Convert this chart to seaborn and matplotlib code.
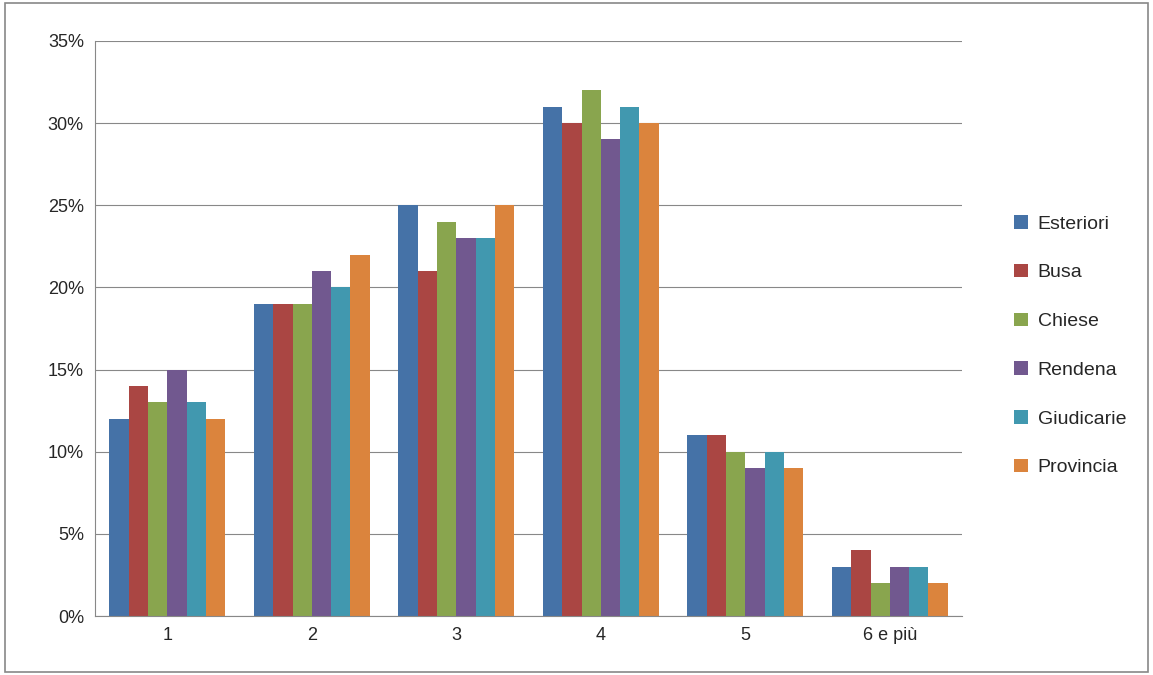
import matplotlib
matplotlib.use("Agg")
import matplotlib.pyplot as plt
import matplotlib.ticker as ticker
import seaborn as sns
import pandas as pd

categories = ["1", "2", "3", "4", "5", "6 e più"]
series = ["Esteriori", "Busa", "Chiese", "Rendena", "Giudicarie", "Provincia"]
esteriori = [12, 19, 25, 31, 11, 3]
busa = [14, 19, 21, 30, 11, 4]
chiese = [13, 19, 24, 32, 10, 2]
rendena = [15, 21, 23, 29, 9, 3]
giudicarie = [13, 20, 23, 31, 10, 3]
provincia = [12, 22, 25, 30, 9, 2]
colors = ["#4572A7", "#AA4643", "#89A54E", "#71588F", "#4198AF", "#DB843D"]

rows = []
for name, vals in zip(series, [esteriori, busa, chiese, rendena, giudicarie, provincia]):
    for c, v in zip(categories, vals):
        rows.append({"cat": c, "serie": name, "val": v / 100})
df = pd.DataFrame(rows)

sns.set_style("white")
plt.rcParams["font.family"] = ["Liberation Sans", "DejaVu Sans"]
fig = plt.figure(figsize=(11.53, 6.75), dpi=100)
ax = fig.add_axes([0.0824, 0.0874, 0.752, 0.852])
sns.barplot(data=df, x="cat", y="val", hue="serie", palette=colors,
            width=0.8, gap=0, saturation=1, linewidth=0, ax=ax, legend=True)

ax.set_ylim(0, 0.35)
ax.yaxis.set_major_locator(ticker.MultipleLocator(0.05))
ax.yaxis.set_major_formatter(ticker.FuncFormatter(lambda v, p: f"{v*100:.0f}%"))
ax.grid(axis="y", color="#888888", linewidth=0.8)
ax.set_axisbelow(True)
for s in ["top", "right"]:
    ax.spines[s].set_visible(False)
for s in ["left", "bottom"]:
    ax.spines[s].set_color("#888888")
ax.set_xlabel("")
ax.set_ylabel("")
ax.tick_params(axis="both", labelsize=13, length=0, pad=8)

leg = ax.legend(loc="center left", bbox_to_anchor=(1.04, 0.47), frameon=False,
                fontsize=14, handlelength=0.7, handleheight=0.7, labelspacing=1.6,
                handletextpad=0.5)

fig.patches.append(plt.Rectangle((0.004, 0.004), 0.992, 0.992, transform=fig.transFigure,
                                 fill=False, edgecolor="#888888", linewidth=1.2))
fig.savefig("out.png", dpi=100)
